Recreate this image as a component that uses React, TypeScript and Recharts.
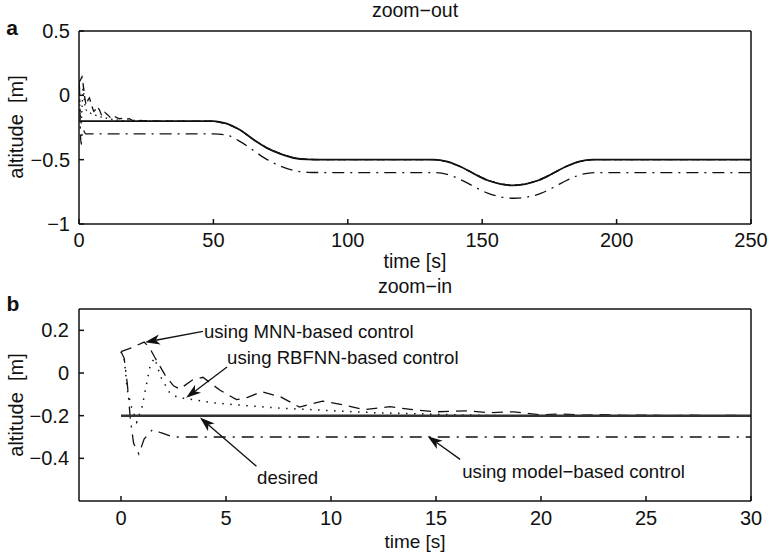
import React from "react";
import { LineChart, Line, XAxis, YAxis, ReferenceLine, ReferenceDot } from "recharts";

const FONT = '"Liberation Sans", Arial, Helvetica, sans-serif';

// desired trajectory over the whole flight (zoom-out)
const refTime = [0, 50, 55, 60, 65, 70, 75, 80, 85, 90, 132, 137, 142, 147, 152, 157, 161, 166, 171, 176, 181, 186, 191, 250];
const refAlt = [-0.2, -0.2, -0.22, -0.27, -0.345, -0.41, -0.455, -0.487, -0.498, -0.5, -0.5, -0.515, -0.555, -0.61, -0.66, -0.69, -0.7, -0.69, -0.66, -0.61, -0.555, -0.515, -0.5, -0.5];

// model-based control after the start transient
const modelLongTime = [50, 55, 60, 65, 70, 75, 80, 85, 90, 132, 137, 142, 147, 152, 157, 162, 167, 172, 177, 182, 187, 192, 250];
const modelLongAlt = [-0.3, -0.31, -0.36, -0.43, -0.5, -0.55, -0.585, -0.598, -0.6, -0.6, -0.615, -0.655, -0.71, -0.76, -0.79, -0.8, -0.79, -0.76, -0.71, -0.655, -0.615, -0.6, -0.6];

// first 30 s (zoom-in)
const desiredZoomTime = [0, 30];
const desiredZoomAlt = [-0.2, -0.2];

const mnnTime = [0, 0.5, 1.1, 1.35, 1.6, 2.1, 2.5, 2.8, 3.4, 3.9, 4.7, 5.5, 6, 6.7, 7.6, 8.5, 9.6, 10.6, 11.6, 12.8, 13.9, 15, 16.5, 17.5, 18.7, 20, 21, 22, 23, 24, 25, 26, 27, 28, 29, 30];
const mnnAlt = [0.1, 0.118, 0.145, 0.12, 0.075, -0.01, -0.06, -0.075, -0.033, -0.02, -0.08, -0.125, -0.115, -0.088, -0.112, -0.16, -0.132, -0.15, -0.172, -0.158, -0.172, -0.182, -0.177, -0.186, -0.182, -0.196, -0.192, -0.198, -0.195, -0.199, -0.197, -0.2, -0.198, -0.2, -0.199, -0.2];

const rbfTime = [0, 0.15, 0.3, 0.5, 0.75, 1.0, 1.2, 1.4, 1.6, 1.9, 2.3, 2.7, 3.1, 4.4, 6, 7.6, 9.1, 10.7, 12.3, 13.8, 15.5, 18, 30];
const rbfAlt = [0.1, 0.07, -0.08, -0.16, -0.23, -0.16, -0.06, 0.04, 0.07, -0.02, -0.09, -0.115, -0.12, -0.14, -0.153, -0.165, -0.172, -0.18, -0.187, -0.19, -0.195, -0.2, -0.2];

const modelTime = [0, 0.15, 0.3, 0.45, 0.6, 0.85, 1.1, 1.5, 1.9, 2.5, 30];
const modelAlt = [0.1, 0.07, -0.05, -0.22, -0.33, -0.38, -0.31, -0.265, -0.28, -0.3, -0.3];

const outTicksX = [0, 50, 100, 150, 200, 250];
const outTicksY = [-1, -0.5, 0, 0.5];
const inTicksX = [0, 5, 10, 15, 20, 25, 30];
const inTicksY = [-0.4, -0.2, 0, 0.2];

// annotations on the zoom-in plot
const noteText = ["using MNN-based control", "using RBFNN-based control", "desired", "using model\u2212based control"];
const noteTextT = [3.95, 5.05, 6.48, 16.25];
const noteTextV = [0.195, 0.074, -0.488, -0.46];
const noteFromT = [3.9, 5.05, 6.45, 16.15];
const noteFromV = [0.195, 0.028, -0.437, -0.405];
const noteToT = [1.14, 3.1, 3.76, 14.6];
const noteToV = [0.144, -0.116, -0.209, -0.296];

const pts = (ts: number[], vs: number[]) => ts.map((t, i) => ({ t, v: vs[i] }));
const after30 = (ts: number[], vs: number[]) => pts(ts, vs).filter((p) => p.t > 30);

const fmt = (v: number) => (v < 0 ? "\u2212" + Math.abs(v) : String(v));

function Arrow(props: any) {
  const { x1, y1, x2, y2 } = props;
  const dx = x2 - x1;
  const dy = y2 - y1;
  const len = Math.hypot(dx, dy) || 1;
  const ux = dx / len;
  const uy = dy / len;
  const L = 15, W = 5, N = 11;
  const bx = x2 - ux * L, by = y2 - uy * L;
  const nx = x2 - ux * N, ny = y2 - uy * N;
  const px = -uy, py = ux;
  const poly = `${x2},${y2} ${bx + px * W},${by + py * W} ${nx},${ny} ${bx - px * W},${by - py * W}`;
  return (
    <g>
      <line x1={x1} y1={y1} x2={nx} y2={ny} stroke="#111" strokeWidth={1.3} />
      <polygon points={poly} fill="#111" />
    </g>
  );
}

function Label({ x, y, text, size = 20, bold = false, rotate = 0 }: any) {
  return (
    <div
      style={{
        position: "absolute",
        left: x,
        top: y,
        transform: `translate(-50%, -50%) rotate(${rotate}deg)`,
        fontFamily: FONT,
        fontSize: size,
        fontWeight: bold ? "bold" : "normal",
        whiteSpace: "pre",
        lineHeight: 1,
        color: "#111",
      }}
    >
      {text}
    </div>
  );
}

const tickStyle = { fill: "#111", fontSize: 20, fontFamily: FONT };

function Frame({ ticksX, ticksY, domainX, domainY, marginX, marginY }: any) {
  return [
    <XAxis key="xb" xAxisId="b" type="number" dataKey="t" domain={domainX} ticks={ticksX} allowDataOverflow
      height={50} stroke="#111" strokeWidth={1.5} tickSize={-5} tickMargin={marginX} tick={tickStyle} />,
    <XAxis key="xt" xAxisId="t" orientation="top" type="number" dataKey="t" domain={domainX} ticks={ticksX} allowDataOverflow
      height={1} stroke="#111" strokeWidth={1.5} tickSize={-5} tick={false} />,
    <YAxis key="yl" yAxisId="l" type="number" domain={domainY} ticks={ticksY} allowDataOverflow width={79}
      stroke="#111" strokeWidth={1.5} tickSize={-5} tickMargin={marginY} tick={tickStyle} tickFormatter={fmt} />,
    <YAxis key="yr" yAxisId="r" orientation="right" type="number" domain={domainY} ticks={ticksY} allowDataOverflow width={1}
      stroke="#111" strokeWidth={1.5} tickSize={-5} tick={false} />,
  ];
}

const lineBase = { xAxisId: "b", yAxisId: "l", dataKey: "v", dot: false, isAnimationActive: false, activeDot: false } as any;

export default function App() {
  const topDesired = pts(refTime, refAlt);
  const topModel = [...pts(modelTime, modelAlt).filter((p) => p.t < 30), ...pts(modelLongTime, modelLongAlt)];
  const topMnn = [...pts(mnnTime, mnnAlt), ...after30(refTime, refAlt)];
  const topRbf = [...pts(rbfTime, rbfAlt), ...after30(refTime, refAlt)];

  return (
    <div style={{ position: "absolute", left: 0, top: 0, width: 771, height: 555, background: "#fff", overflow: "hidden" }}>
      <div style={{ position: "absolute", left: 0, top: 0 }}>
        <LineChart width={771} height={280} margin={{ top: 30, right: 19, bottom: 6, left: 0 }}>
          {Frame({ ticksX: outTicksX, ticksY: outTicksY, domainX: [0, 250], domainY: [-1, 0.5], marginX: 14, marginY: 14 })}
          <Line {...lineBase} data={topModel} type="monotone" stroke="#111" strokeWidth={1.3} strokeDasharray="12 6 2 6" />
          <Line {...lineBase} data={topRbf} type="linear" stroke="#111" strokeWidth={1.3} strokeDasharray="1.5 4" />
          <Line {...lineBase} data={topMnn} type="linear" stroke="#111" strokeWidth={1.3} strokeDasharray="8 5" />
          <Line {...lineBase} data={topDesired} type="monotone" stroke="#111" strokeWidth={1.8} />
        </LineChart>
      </div>

      <div style={{ position: "absolute", left: 0, top: 270 }}>
        <LineChart width={771} height={285} margin={{ top: 38, right: 19, bottom: 4, left: 0 }}>
          {Frame({ ticksX: inTicksX, ticksY: inTicksY, domainX: [-2, 30], domainY: [-0.6, 0.3], marginX: 15, marginY: 15 })}
          <Line {...lineBase} data={pts(modelTime, modelAlt)} type="linear" stroke="#111" strokeWidth={1.3} strokeDasharray="12 7 2 7" />
          <Line {...lineBase} data={pts(rbfTime, rbfAlt)} type="linear" stroke="#111" strokeWidth={1.5} strokeDasharray="1.5 6.5" />
          <Line {...lineBase} data={pts(mnnTime, mnnAlt)} type="linear" stroke="#111" strokeWidth={1.3} strokeDasharray="11 7" />
          <Line {...lineBase} data={pts(desiredZoomTime, desiredZoomAlt)} type="linear" stroke="#333" strokeWidth={2.5} />
          {noteText.map((_, i) => (
            <ReferenceLine
              key={"a" + i}
              xAxisId="b"
              yAxisId="l"
              segment={[
                { x: noteFromT[i], y: noteFromV[i] },
                { x: noteToT[i], y: noteToV[i] },
              ]}
              shape={Arrow}
            />
          ))}
          {noteText.map((txt, i) => (
            <ReferenceDot
              key={"t" + i}
              xAxisId="b"
              yAxisId="l"
              x={noteTextT[i]}
              y={noteTextV[i]}
              r={0}
              shape={(p: any) => (
                <text x={p.cx} y={p.cy} dominantBaseline="central" fontFamily={FONT} fontSize={18.6} fill="#111">
                  {txt}
                </text>
              )}
            />
          ))}
        </LineChart>
      </div>

      <Label x={415} y={11} text={"zoom\u2212out"} size={19.5} />
      <Label x={12} y={27} text="a" size={21} bold />
      <Label x={415} y={262} text="time [s]" size={19.5} />
      <Label x={16} y={127} text="altitude  [m]" rotate={-90} />

      <Label x={415} y={287} text={"zoom\u2212in"} size={19.5} />
      <Label x={13} y={303} text="b" size={21} bold />
      <Label x={415} y={541} text="time [s]" size={19} />
      <Label x={16} y={405} text="altitude  [m]" rotate={-90} />
    </div>
  );
}
